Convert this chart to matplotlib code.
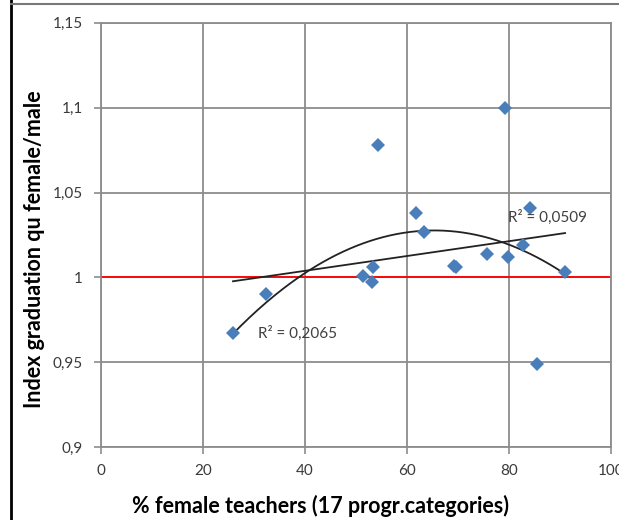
import numpy as np
import matplotlib
matplotlib.use("Agg")
import matplotlib.pyplot as plt
from matplotlib.lines import Line2D
from matplotlib.ticker import FuncFormatter

plt.rcParams['font.family'] = ['Lato', 'DejaVu Sans']

# % female teachers per programme category, and graduation index female/male
pct_female = [25.9, 32.4, 51.4, 53.1, 53.3, 54.3, 61.8, 63.3, 69.2, 69.6,
              75.7, 79.2, 79.8, 82.7, 84.1, 85.5, 91.0]
grad_index = [0.967, 0.990, 1.0006, 0.9975, 1.006, 1.078, 1.038, 1.027, 1.007, 1.006,
              1.014, 1.100, 1.012, 1.019, 1.041, 0.949, 1.003]
r2_lin = "R² = 0,0509"
r2_poly = "R² = 0,2065"

x = np.array(pct_female)
y = np.array(grad_index)

fig = plt.figure(figsize=(6.19, 5.2), dpi=100)
ax = fig.add_axes([0.163, 0.140, 0.824, 0.816])

grid_c = '#8c8c8c'
ax.set_xlim(0, 100)
ax.set_ylim(0.9, 1.15)
ax.set_xticks([0, 20, 40, 60, 80, 100])
ax.set_yticks([0.9, 0.95, 1.0, 1.05, 1.1, 1.15])
ax.grid(True, color=grid_c, lw=1.3)
ax.set_axisbelow(True)
for s in ax.spines.values():
    s.set_color(grid_c)
    s.set_linewidth(1.3)
ax.tick_params(colors=grid_c, length=5, width=1.2, labelsize=11, labelcolor='#3a3a3a')
ax.tick_params(axis='x', pad=7)
ax.tick_params(axis='y', pad=8)
ax.yaxis.set_major_formatter(FuncFormatter(lambda v, p: ('%g' % round(v, 2)).replace('.', ',')))

# reference line at 1
ax.axhline(1.0, color='#ff0000', lw=1.3, zorder=2)

# trendlines fitted on the data
xs = np.linspace(x.min(), x.max(), 200)
lin = np.polyfit(x, y, 1)
poly = np.polyfit(x, y, 2)
ax.plot(xs, np.polyval(lin, xs), color='#222222', lw=1.3, zorder=3)
ax.plot(xs, np.polyval(poly, xs), color='#222222', lw=1.3, zorder=3)

ax.plot(x, y, 'D', color='#4a7ebb', markersize=7, markeredgewidth=0, zorder=4)

ax.text(79.8, 1.0353, r2_lin, fontsize=11, color='#404040', va='center', zorder=5)
ax.text(30.8, 0.967, r2_poly, fontsize=11, color='#404040', va='center', zorder=5)

# axis titles, placed where the original has them
fig.text(320 / 619, 1 - 506 / 520, '% female teachers (17 progr.categories)',
         fontsize=15.5, fontweight='bold', ha='center', va='center')
fig.text(35 / 619, 1 - 249 / 520, 'Index graduation qu female/male',
         fontsize=15.5, fontweight='bold', ha='center', va='center', rotation=90)

# frame edges of the screenshot
fig.add_artist(Line2D([11 / 619, 11 / 619], [0, 1], color='black', lw=2))
fig.add_artist(Line2D([11 / 619, 1], [1 - 4 / 520, 1 - 4 / 520], color='#777777', lw=1.5))

fig.savefig('out.png', dpi=100)
